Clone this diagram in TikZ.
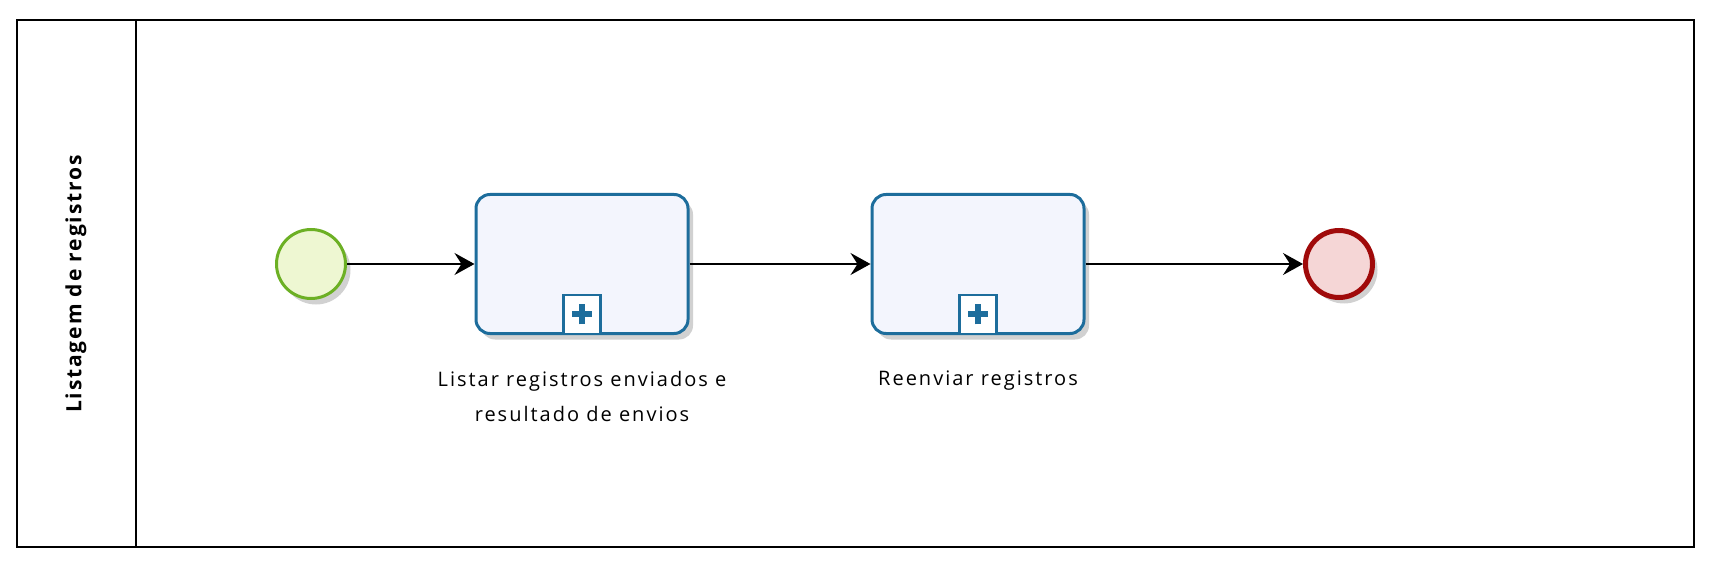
\documentclass[tikz,border=0pt]{standalone}
\usepackage{fontspec}
\setmainfont{Open Sans}
\usetikzlibrary{positioning}
\usetikzlibrary{arrows.meta}
\usetikzlibrary{shadows}
\definecolor{taskblue}{HTML}{1D6D9C}
\definecolor{taskfill}{HTML}{F3F5FD}
\definecolor{startgreen}{HTML}{6CB024}
\definecolor{startfill}{HTML}{EEF7D2}
\definecolor{endred}{HTML}{A00A0A}
\definecolor{endfill}{HTML}{F5D6D6}
\tikzset{%
  myshadow/.style={drop shadow={shadow xshift=5pt, shadow yshift=-6pt, opacity=0.18, fill=black}},
  poolline/.style={draw=black, line width=2pt},
  lanelabel/.style={rotate=90, font=\bfseries\fontsize{21}{24}\selectfont\addfontfeatures{LetterSpace=9}},
  taskbox/.style={rectangle, rounded corners=14pt, draw=taskblue, line width=3pt, fill=taskfill,
    minimum width=212pt, minimum height=139pt, myshadow},
  spmarker/.style={rectangle, draw=taskblue, line width=2.5pt, fill=white, minimum width=37pt, minimum height=39pt},
  plussign/.style={draw=taskblue, line width=6pt},
  startev/.style={circle, draw=startgreen, line width=3pt, fill=startfill, minimum size=69pt, myshadow},
  endev/.style={circle, draw=endred, line width=5pt, fill=endfill, minimum size=67pt, myshadow},
  flowedge/.style={-{Stealth[length=20pt, width=22pt, inset=7pt]}, line width=2pt},
  tasklabel/.style={align=center, inner sep=0pt, font=\fontsize{20}{35}\selectfont\addfontfeatures{LetterSpace=10}}
}
\begin{document}
\begin{tikzpicture}[x=1pt, y=-1pt]
  \useasboundingbox (0,0) rectangle (1711,564);
  % pool with one lane
  \draw[poolline] (17,20) rectangle (1694,547);
  \draw[poolline] (136,20) -- (136,547);
  \node[lanelabel] (lane) at (76,284) {Listagem de registros};
  % events and sub-processes
  \node[startev] (start) at (311,264) {};
  \node[taskbox] (sp1) at (582,264) {};
  \node[taskbox] (sp2) at (978,264) {};
  \node[endev] (end) at (1339,264) {};
  % collapsed sub-process markers
  \foreach \t in {sp1, sp2} {
    \node[spmarker, above=0pt] (\t-mark) at (\t.south) {};
    \draw[plussign] ([xshift=-10pt]\t-mark.center) -- ([xshift=10pt]\t-mark.center);
    \draw[plussign] ([yshift=-10pt]\t-mark.center) -- ([yshift=10pt]\t-mark.center);
  }
  % sequence flows
  \draw[flowedge] (start) -- (sp1);
  \draw[flowedge] (sp1) -- (sp2);
  \draw[flowedge] (sp2) -- (end);
  % labels
  \node[tasklabel, below=36pt of sp1] (sp1-label) {Listar registros enviados e\\resultado de envios};
  \node[tasklabel, below=36pt of sp2] (sp2-label) {Reenviar registros};
\end{tikzpicture}
\end{document}
